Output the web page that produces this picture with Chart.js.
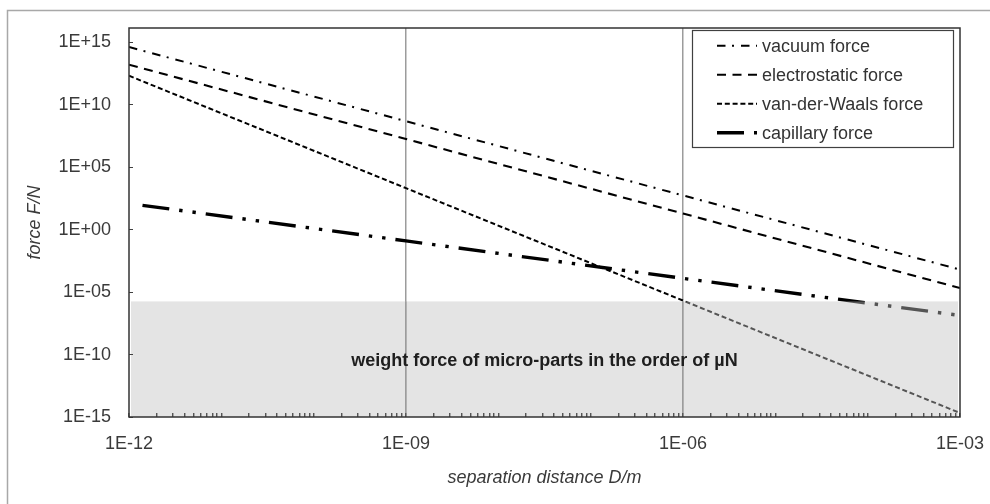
<!DOCTYPE html>
<html>
<head>
<meta charset="utf-8">
<script src="https://cdn.jsdelivr.net/npm/chart.js@4.4.1/dist/chart.umd.min.js"></script>
<style>
html,body{margin:0;padding:0;background:#fff;}
#wrap{width:990px;height:504px;position:relative;}
canvas{display:block;}
</style>
</head>
<body>
<div id="wrap"><canvas id="c" width="990" height="504"></canvas></div>
<script>
// ---- data ----
const separationDistance = [1e-12, 1e-9, 1e-6, 1e-3];
const capillaryDistance  = [1.4e-12, 1e-9, 1e-6, 1e-3];
const vacuumForce        = [4.2e14, 4.8e8, 5.5e2, 6.3e-4];
const electrostaticForce = [1.6e13, 1.8e7, 1.95e1, 2.1e-5];
const vanDerWaalsForce   = [2.1e12, 2.1e3, 2.1e-6, 2.1e-15];
const capillaryForce     = [89, 0.126, 1.26e-4, 1.35e-7];
const seriesNames = ['vacuum force', 'electrostatic force', 'van-der-Waals force', 'capillary force'];
const xTickLabels = ['1E-12', '1E-09', '1E-06', '1E-03'];
const yTickLabels = ['1E-15', '1E-10', '1E-05', '1E+00', '1E+05', '1E+10', '1E+15'];
const yAxisMax = 1.4e16;
const weightBandTop = 1.8e-6;
const weightLabelLevel = 3.3e-11;
const weightBandText = 'weight force of micro-parts in the order of µN';
const xAxisTitle = 'separation distance D/m';
const yAxisTitle = 'force F/N';

// ---- helpers ----
const FONT = "'Liberation Sans', Arial, Helvetica, sans-serif";
Chart.defaults.font.family = FONT;
Chart.defaults.color = '#3a3a3a';

const xy = (xs, ys) => xs.map((x, i) => ({ x: x, y: ys[i] }));
const sameLog = (a, b) => Math.abs(Math.log10(a) - Math.log10(b)) < 1e-6;
const labelFor = (list, v) => { const i = list.findIndex(l => sameLog(parseFloat(l), v)); return i >= 0 ? list[i] : ''; };
const xMajors = xTickLabels.map(parseFloat);

// x ticks: every k*10^e (log minor ticks) between the labelled decades
const xTicks = [];
(function () {
  const e0 = Math.round(Math.log10(xMajors[0]));
  const e1 = Math.round(Math.log10(xMajors[xMajors.length - 1]));
  for (let e = e0; e < e1; e++) {
    for (let k = 1; k <= 9; k++) {
      xTicks.push({ value: parseFloat(k + 'e' + e), major: k === 1 });
    }
  }
  xTicks.push({ value: xMajors[xMajors.length - 1], major: true });
})();

const isInnerMajor = v => v !== undefined && xMajors.slice(1, -1).some(m => sameLog(m, v));

const datasets = [
  { label: seriesNames[0], data: xy(separationDistance, vacuumForce), borderWidth: 2, borderDash: [8.5, 6.5, 2, 7] },
  { label: seriesNames[1], data: xy(separationDistance, electrostaticForce), borderWidth: 2.1, borderDash: [9, 6.5] },
  { label: seriesNames[2], data: xy(separationDistance, vanDerWaalsForce), borderWidth: 2, borderDash: [5, 2.8] },
  { label: seriesNames[3], data: xy(capillaryDistance, capillaryForce), borderWidth: 3.4, borderDash: [27, 10, 3.4, 10, 3.4, 10] }
];
datasets.forEach(d => {
  d.borderColor = '#000';
  d.backgroundColor = '#000';
  d.pointRadius = 0;
  d.pointHoverRadius = 0;
  d.fill = false;
  d.tension = 0;
  d.borderCapStyle = 'butt';
});

const decorPlugin = {
  id: 'decor',
  beforeDraw(chart) {
    const c = chart.ctx;
    c.save();
    c.fillStyle = '#fff';
    c.fillRect(0, 0, chart.width, chart.height);
    c.strokeStyle = '#a8a8a8';
    c.lineWidth = 1.5;
    c.beginPath();
    c.moveTo(7.5, chart.height + 5);
    c.lineTo(7.5, 10.5);
    c.lineTo(chart.width + 5, 10.5);
    c.stroke();
    c.restore();
  },
  afterDatasetsDraw(chart) {
    const c = chart.ctx, a = chart.chartArea, ys = chart.scales.y;
    const top = ys.getPixelForValue(weightBandTop);
    c.save();
    // translucent weight band over the lines
    c.fillStyle = 'rgba(193,193,193,0.44)';
    c.fillRect(a.left + 2, top, a.right - a.left - 4, a.bottom - top);
    // grid lines / ticks on top of the band
    c.save();
    c.beginPath();
    c.rect(a.left, top, a.right - a.left, a.bottom - top + 1);
    c.clip();
    chart.scales.x.drawGrid(a);
    chart.scales.y.drawGrid(a);
    c.restore();
    // band label
    c.fillStyle = '#1e1e1e';
    c.font = 'bold 18px ' + FONT;
    c.textAlign = 'center';
    c.textBaseline = 'middle';
    c.fillText(weightBandText, (a.left + a.right) / 2, ys.getPixelForValue(weightLabelLevel));
    // plot frame
    c.strokeStyle = '#333';
    c.lineWidth = 1.5;
    c.strokeRect(a.left, a.top, a.right - a.left, a.bottom - a.top);
    // legend
    const bw = 261, bh = 117;
    const bx = a.right - 7 - bw, by = a.top + 2;
    c.fillStyle = '#fff';
    c.fillRect(bx, by, bw, bh);
    c.strokeStyle = '#404040';
    c.lineWidth = 1.2;
    c.strokeRect(bx + 0.5, by + 0.5, bw, bh);
    c.font = '18px ' + FONT;
    c.textAlign = 'left';
    c.textBaseline = 'middle';
    chart.data.datasets.forEach((d, i) => {
      const cy = by + 15.7 + i * 29;
      c.save();
      c.strokeStyle = d.borderColor;
      c.lineWidth = d.borderWidth;
      c.lineCap = 'butt';
      c.setLineDash(d.borderDash);
      c.beginPath();
      c.moveTo(bx + 25, cy);
      c.lineTo(bx + 65, cy);
      c.stroke();
      c.restore();
      c.fillStyle = '#333';
      c.fillText(d.label, bx + 70, cy + 1);
    });
    c.restore();
  }
};

new Chart(document.getElementById('c'), {
  type: 'line',
  data: { datasets: datasets },
  plugins: [decorPlugin],
  options: {
    responsive: false,
    animation: false,
    devicePixelRatio: 1,
    layout: { padding: { left: 0, right: 30, top: 28, bottom: 0 } },
    plugins: { legend: { display: false }, tooltip: { enabled: false } },
    scales: {
      x: {
        type: 'logarithmic',
        min: xMajors[0],
        max: xMajors[xMajors.length - 1],
        afterBuildTicks: s => { s.ticks = xTicks.map(t => ({ value: t.value, major: t.major })); },
        afterFit: s => { s.height = 87; s.paddingLeft = 0; s.paddingRight = 0; },
        ticks: {
          autoSkip: false, maxRotation: 0, minRotation: 0, padding: 20,
          font: { size: 18 }, color: '#3a3a3a',
          callback: v => labelFor(xTickLabels, v)
        },
        grid: {
          color: ctx => (ctx.tick && isInnerMajor(ctx.tick.value)) ? '#9c9c9c' : 'rgba(0,0,0,0)',
          lineWidth: 1.5, tickColor: '#404040', tickLength: -4, tickWidth: 1, drawTicks: true
        },
        border: { display: false },
        title: { display: true, text: xAxisTitle, font: { size: 18, style: 'italic' }, color: '#3a3a3a', padding: { top: 0, bottom: 15 } }
      },
      y: {
        type: 'logarithmic',
        min: parseFloat(yTickLabels[0]),
        max: yAxisMax,
        afterBuildTicks: s => { s.ticks = yTickLabels.map(l => ({ value: parseFloat(l), major: true })); },
        afterFit: s => { s.width = 129; s.paddingTop = 0; s.paddingBottom = 0; },
        ticks: {
          autoSkip: false, padding: 22, font: { size: 18 }, color: '#3a3a3a',
          callback: v => labelFor(yTickLabels, v)
        },
        grid: { color: 'rgba(0,0,0,0)', tickColor: '#404040', tickLength: -4, tickWidth: 1, drawTicks: true },
        border: { display: false },
        title: { display: true, text: yAxisTitle, font: { size: 18, style: 'italic' }, color: '#3a3a3a', padding: { top: 24, bottom: 0 } }
      }
    }
  }
});
</script>
</body>
</html>
